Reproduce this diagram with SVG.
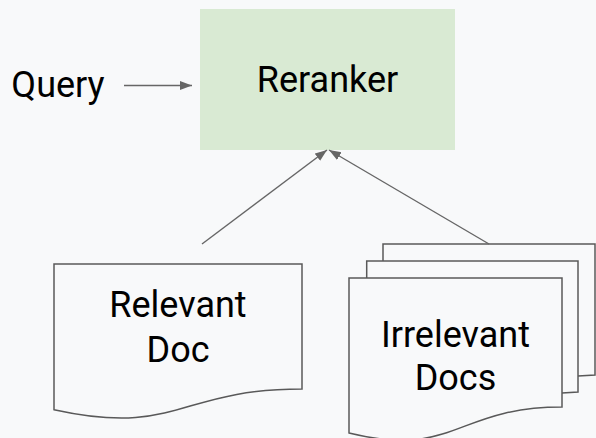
<svg xmlns="http://www.w3.org/2000/svg" width="596" height="438" viewBox="0 0 596 438">
<style>
.t{font-family:Roboto,"Liberation Sans",sans-serif;font-size:36px;fill:#000;text-anchor:middle}
.doc{fill:#f8f9fa;stroke:#595959;stroke-width:1.5;stroke-linejoin:miter}
.con{fill:none;stroke:#666;stroke-width:1.4}
</style>
<defs>
<marker id="ah" markerUnits="userSpaceOnUse" markerWidth="13" markerHeight="10" refX="12" refY="4.5" orient="auto">
<path d="M0,0 L12,4.5 L0,9 Z" fill="#666"/>
</marker>
</defs>
<rect width="596" height="438" fill="#f8f9fa"/>
<g id="query">
<text class="t" x="58" y="97">Query</text>
</g>
<g id="reranker">
<rect x="200" y="9" width="255" height="141" fill="#d9ead3"/>
<text class="t" x="327.5" y="92">Reranker</text>
</g>
<g id="relevant-doc">
<path class="doc" d="M54,264 H302 V389 C178,389 178,437 54,409.7 Z"/>
<text class="t" x="178" y="317">Relevant</text>
<text class="t" x="178" y="362">Doc</text>
</g>
<g id="irrelevant-docs">
<path class="doc" d="M383,261 V244 H595 V375 L578,376"/>
<path class="doc" d="M366.7,278 V261 H578 V392 L562,393"/>
<path class="doc" d="M349,278 H562 V407 C455,407 455,459 349,433 Z"/>
<text class="t" x="455.5" y="347">Irrelevant</text>
<text class="t" x="455.5" y="390">Docs</text>
</g>
<g id="connectors">
<line class="con" x1="124" y1="85.5" x2="192" y2="85.5" marker-end="url(#ah)"/>
<line class="con" x1="202" y1="244" x2="327" y2="150" marker-end="url(#ah)"/>
<line class="con" x1="489" y1="244" x2="329" y2="150" marker-end="url(#ah)"/>
</g>
</svg>
